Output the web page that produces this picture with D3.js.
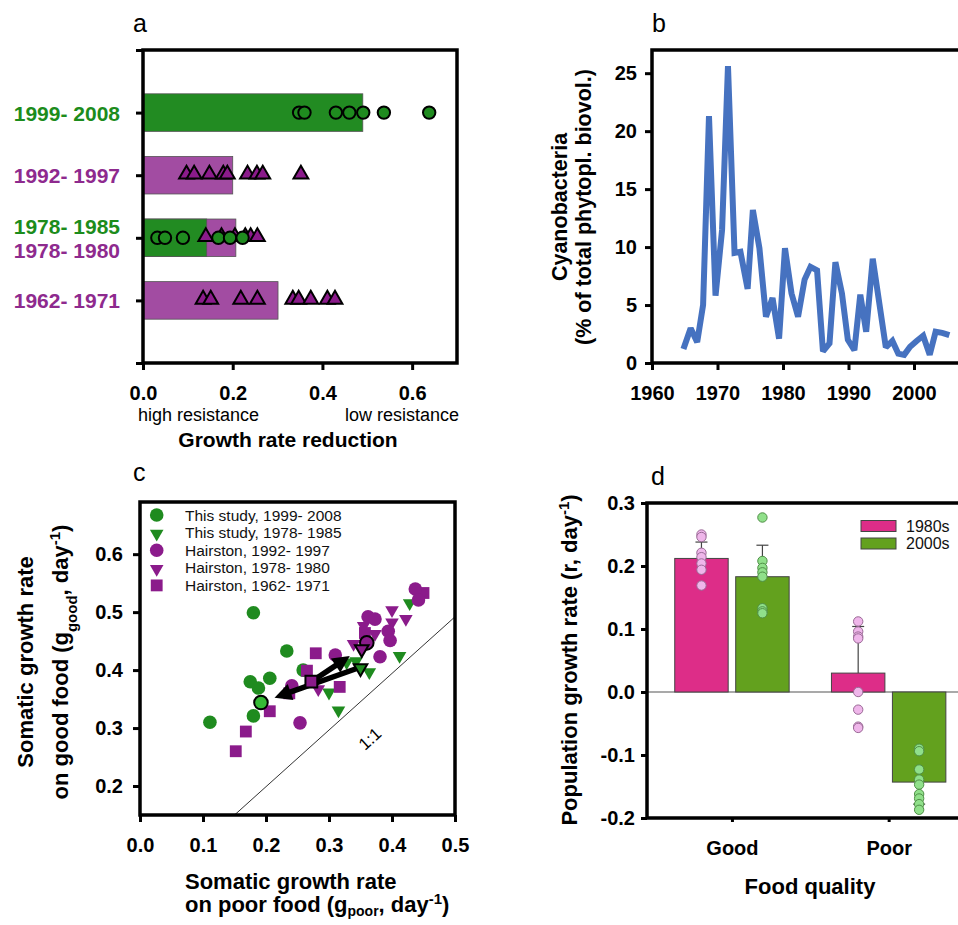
<!DOCTYPE html>
<html>
<head>
<meta charset="utf-8">
<script src="https://cdn.jsdelivr.net/npm/d3@7"></script>
<style>
  body { margin: 0; background: #fff; }
  svg { font-family: "Liberation Sans", Arial, sans-serif; }
</style>
</head>
<body>
<svg id="fig" width="958" height="925"></svg>
<script>
// ---------- panel a: growth rate reduction
const aGroups = ['1999- 2008', '1992- 1997', '1978- 1980', '1978- 1985', '1962- 1971'];
const aStudy = ['this', 'hairston', 'hairston', 'this', 'hairston'];
const aRow = [4, 3, 2, 2, 1];
const aBarValues = [0.49, 0.20, 0.207, 0.142, 0.301];
const aPts1999 = [0.348, 0.36, 0.43, 0.46, 0.491, 0.537, 0.638];
const aPts1992 = [0.097, 0.114, 0.148, 0.179, 0.188, 0.233, 0.254, 0.267, 0.352];
const aPts1980 = [0.14, 0.175, 0.205, 0.228, 0.24, 0.255];
const aPts1985 = [0.032, 0.049, 0.089, 0.168, 0.194, 0.222];
const aPts1962 = [0.134, 0.151, 0.218, 0.255, 0.334, 0.347, 0.374, 0.411, 0.428];
const aPoints = [aPts1999, aPts1992, aPts1980, aPts1985, aPts1962];
const aTicks = [0, 0.2, 0.4, 0.6];

// ---------- panel b: cyanobacteria time series
const cyanoYears = [1964.8, 1965.9, 1966.9, 1967.8, 1968.7, 1969.7, 1970.7, 1971.6, 1972.6, 1973.5,
  1974.6, 1975.4, 1976.4, 1977.4, 1978.4, 1979.4, 1980.3, 1981.3, 1982.3, 1983.3,
  1984.2, 1985.2, 1986.1, 1987.1, 1988.0, 1989.0, 1989.9, 1990.9, 1991.8, 1992.7,
  1993.7, 1995.7, 1996.7, 1997.6, 1998.5, 1999.4, 2000.4, 2001.4, 2002.4, 2003.3,
  2004.3, 2005.4];
const cyanoValues = [1.2, 3.0, 1.8, 5.0, 21.3, 5.8, 11.5, 25.6, 9.5, 9.6,
  6.4, 13.2, 9.9, 4.0, 5.6, 2.1, 9.9, 6.0, 4.0, 7.2,
  8.3, 8.0, 1.0, 1.7, 8.7, 6.0, 2.0, 1.1, 5.9, 2.7,
  9.0, 1.35, 1.9, 0.8, 0.7, 1.4, 1.9, 2.35, 0.7, 2.7,
  2.6, 2.4];
const bXTicks = [1960, 1970, 1980, 1990, 2000];
const bYTicks = [0, 5, 10, 15, 20, 25];

// ---------- panel c: somatic growth rates
const cSeries = ['This study, 1999- 2008', 'This study, 1978- 1985', 'Hairston, 1992- 1997', 'Hairston, 1978- 1980', 'Hairston, 1962- 1971'];
const cThis1999 = [[0.180, 0.499], [0.233, 0.433], [0.175, 0.380], [0.206, 0.386], [0.188, 0.369], [0.180, 0.321], [0.111, 0.310], [0.259, 0.400]];
const cThis1978 = [[0.428, 0.517], [0.412, 0.426], [0.364, 0.398], [0.300, 0.363], [0.315, 0.332], [0.328, 0.415], [0.343, 0.417]];
const cHair1992 = [[0.437, 0.540], [0.442, 0.521], [0.362, 0.492], [0.373, 0.488], [0.394, 0.467], [0.397, 0.451], [0.381, 0.423], [0.310, 0.426], [0.241, 0.373], [0.254, 0.309]];
const cHair1978 = [[0.400, 0.505], [0.422, 0.490], [0.400, 0.484], [0.373, 0.464], [0.339, 0.447], [0.283, 0.369], [0.355, 0.478]];
const cHair1962 = [[0.450, 0.533], [0.357, 0.464], [0.279, 0.429], [0.265, 0.399], [0.317, 0.371], [0.237, 0.360], [0.206, 0.329], [0.168, 0.294], [0.152, 0.260]];
const cMeans = [[0.192, 0.344], [0.350, 0.405], [0.360, 0.447], [0.352, 0.438], [0.272, 0.380]];
const cArrowFrom = [4, 1];
const cArrowTo = [3, 0];
const cOneToOne = [[0.15, 0.15], [0.5, 0.492]];
const cXTicks = [0, 0.1, 0.2, 0.3, 0.4, 0.5];
const cYTicks = [0.2, 0.3, 0.4, 0.5, 0.6];

// ---------- panel d: population growth rate
const dGroups = ['Good', 'Poor'];
const dSeries = ['1980s', '2000s'];
const dMean1980 = [0.212, 0.030];
const dMean2000 = [0.183, -0.143];
const dErr1980 = [0.238, 0.104];
const dErr2000 = [0.233, -0.178];
const dDots1980Good = [0.250, 0.246, 0.221, 0.214, 0.204, 0.194, 0.169];
const dDots2000Good = [0.277, 0.208, 0.197, 0.190, 0.183, 0.133, 0.128, 0.125];
const dDots1980Poor = [0.112, 0.096, 0.088, 0.085, 0.0, -0.028, -0.055, -0.057];
const dDots2000Poor = [-0.090, -0.094, -0.123, -0.139, -0.147, -0.162, -0.169, -0.178, -0.187];
const dYTicks = [-0.2, -0.1, 0.0, 0.1, 0.2, 0.3];

const svg = d3.select('#fig');
const FONT = '"Liberation Sans", Arial, sans-serif';
const GREEN = '#1f8b1f', PURPLE = '#8b1b8b', PURPLE_BAR = '#a24ca2';

let styleAxis = (g) => {
  g.select('.domain').remove();
  g.attr('font-family', FONT);
  g.selectAll('.tick line').attr('stroke', '#000').attr('stroke-width', 3);
  g.selectAll('.tick text').attr('font-size', 20).attr('font-weight', 'bold').attr('fill', '#000');
};

let frame = (x0, y0, x1, y1) => {
  svg.append('rect')
    .attr('x', x0).attr('y', y0)
    .attr('width', x1 - x0).attr('height', y1 - y0)
    .attr('fill', 'none').attr('stroke', '#000').attr('stroke-width', 3.5);
};

let label = (x, y, txt, opts) => {
  opts = opts || {};
  return svg.append('text')
    .attr('x', x).attr('y', y)
    .attr('font-size', opts.size || 22)
    .attr('font-weight', opts.bold ? 'bold' : 'normal')
    .attr('text-anchor', opts.anchor || 'start')
    .attr('fill', opts.fill || '#000')
    .text(txt);
};

// ================= panel a =================
const ax = d3.scaleLinear().domain([0, 0.7]).range([143, 457]);
const ay = d3.scaleLinear().domain([0, 5]).range([363, 50]);

svg.append('g').selectAll('rect').data(aGroups).enter().append('rect')
  .attr('x', ax(0))
  .attr('y', (d, i) => ay(aRow[i] + 0.3))
  .attr('width', (d, i) => ax(aBarValues[i]) - ax(0))
  .attr('height', (d, i) => ay(aRow[i] - 0.3) - ay(aRow[i] + 0.3))
  .attr('fill', (d, i) => aStudy[i] === 'this' ? '#228b22' : PURPLE_BAR)
  .attr('stroke', '#555').attr('stroke-width', 0.8);

const triA = d3.symbol(d3.symbolTriangle, 95)();
aGroups.forEach((g, i) => {
  if (aStudy[i] !== 'hairston') return;
  svg.append('g').selectAll('path').data(aPoints[i]).enter().append('path')
    .attr('d', triA)
    .attr('transform', d => `translate(${ax(d)},${ay(aRow[i]) - 1})`)
    .attr('fill', PURPLE).attr('stroke', '#000').attr('stroke-width', 2);
});
aGroups.forEach((g, i) => {
  if (aStudy[i] !== 'this') return;
  svg.append('g').selectAll('circle').data(aPoints[i]).enter().append('circle')
    .attr('cx', d => ax(d)).attr('cy', ay(aRow[i]))
    .attr('r', 6.2)
    .attr('fill', GREEN).attr('stroke', '#000').attr('stroke-width', 2);
});

frame(143, 50, 457, 363);
svg.append('g').attr('transform', `translate(0,${ay(0)})`)
  .call(d3.axisBottom(ax).tickValues(aTicks).tickFormat(d => d.toFixed(1)).tickSize(7).tickPadding(16))
  .call(styleAxis);
svg.append('g').attr('transform', `translate(${ax(0)},0)`)
  .call(d3.axisLeft(ay).tickValues([0, 1, 2, 3, 4, 5]).tickFormat('').tickSize(7))
  .call(styleAxis);

// row labels
aGroups.forEach((g, i) => {
  const shared = aRow.filter(r => r === aRow[i]).length > 1;
  let dy = 8;
  if (shared) dy = aStudy[i] === 'this' ? -4 : 20;
  label(120, ay(aRow[i]) + dy, g, { size: 21, bold: true, anchor: 'end', fill: aStudy[i] === 'this' ? '#1c8c1c' : '#8e2a8e' });
});

label(138, 421, 'high resistance', { size: 18 });
label(459, 421, 'low resistance', { size: 18, anchor: 'end' });
label(288, 447, 'Growth rate reduction', { size: 21, bold: true, anchor: 'middle' });
label(133, 32, 'a', { size: 25 });

// ================= panel b =================
const bx = d3.scaleLinear().domain([1960, 2008]).range([652, 966.4]);
const by = d3.scaleLinear().domain([0, 27]).range([363, 50]);

svg.append('path')
  .datum(cyanoYears.map((y, i) => [y, cyanoValues[i]]))
  .attr('d', d3.line().x(d => bx(d[0])).y(d => by(d[1])))
  .attr('fill', 'none').attr('stroke', '#4672c0').attr('stroke-width', 6)
  .attr('stroke-linejoin', 'miter').attr('stroke-miterlimit', 2);

frame(652, 50, 966.4, 363);
svg.append('g').attr('transform', `translate(0,${by(0)})`)
  .call(d3.axisBottom(bx).tickValues(bXTicks).tickFormat(d3.format('d')).tickSize(7).tickPadding(16))
  .call(styleAxis);
svg.append('g').attr('transform', `translate(${bx(1960)},0)`)
  .call(d3.axisLeft(by).tickValues(bYTicks).tickSize(7).tickPadding(8))
  .call(styleAxis);

svg.append('text').attr('transform', 'translate(567,207) rotate(-90)')
  .attr('text-anchor', 'middle').attr('font-size', 21.5).attr('font-weight', 'bold').text('Cyanobacteria');
svg.append('text').attr('transform', 'translate(591,207) rotate(-90)')
  .attr('text-anchor', 'middle').attr('font-size', 21.5).attr('font-weight', 'bold').text('(% of total phytopl. biovol.)');
label(652, 32, 'b', { size: 25 });

// ================= panel c =================
const cx = d3.scaleLinear().domain([0, 0.5]).range([140, 455]);
const cy = d3.scaleLinear().domain([0.15, 0.69]).range([815, 502]);

svg.append('line')
  .attr('x1', cx(cOneToOne[0][0])).attr('y1', cy(cOneToOne[0][1]))
  .attr('x2', cx(cOneToOne[1][0])).attr('y2', cy(cOneToOne[1][1]))
  .attr('stroke', '#333').attr('stroke-width', 1);
svg.append('text')
  .attr('transform', `translate(${cx(0.371)},${cy(0.274)}) rotate(-42)`)
  .attr('text-anchor', 'middle').attr('font-size', 17).text('1:1');

const triC = d3.symbol(d3.symbolTriangle, 80)();
const sqC = d3.symbol(d3.symbolSquare, 140)();
const cShape = ['circle', 'tri', 'circle', 'tri', 'square'];
const cColor = [GREEN, GREEN, PURPLE, PURPLE, PURPLE];
const cData = [cThis1999, cThis1978, cHair1962, cHair1978, cHair1992];
const cDataIdx = [0, 1, 4, 3, 2];

let drawShape = (sel, shape) => {
  if (shape === 'circle') return sel.append('circle').attr('r', 6.8);
  if (shape === 'tri') return sel.append('path').attr('d', triC);
  return sel.append('path').attr('d', sqC);
};
let placeShape = (el, shape, px, py) => {
  if (shape === 'circle') el.attr('cx', px).attr('cy', py);
  else if (shape === 'tri') el.attr('transform', `translate(${px},${py + 1}) rotate(180)`);
  else el.attr('transform', `translate(${px},${py})`);
};

cData.forEach((pts, k) => {
  const s = cDataIdx[k];
  pts.forEach(p => {
    const el = drawShape(svg, cShape[s]).attr('fill', cColor[s]);
    placeShape(el, cShape[s], cx(p[0]), cy(p[1]));
  });
});

// arrows
svg.append('defs').append('marker')
  .attr('id', 'ahead').attr('viewBox', '0 0 10 10')
  .attr('refX', 2).attr('refY', 5)
  .attr('markerWidth', 20).attr('markerHeight', 17)
  .attr('markerUnits', 'userSpaceOnUse').attr('orient', 'auto')
  .append('path').attr('d', 'M0,0 L10,5 L0,10 z').attr('fill', '#000');

cArrowFrom.forEach((f, i) => {
  const a = cMeans[f], b = cMeans[cArrowTo[i]];
  const x1 = cx(a[0]), y1 = cy(a[1]), x2 = cx(b[0]), y2 = cy(b[1]);
  const len = Math.hypot(x2 - x1, y2 - y1);
  const ux = (x2 - x1) / len, uy = (y2 - y1) / len;
  svg.append('line')
    .attr('x1', x1 + ux * 4).attr('y1', y1 + uy * 4)
    .attr('x2', x2 - ux * 28).attr('y2', y2 - uy * 28)
    .attr('stroke', '#000').attr('stroke-width', 5.5)
    .attr('marker-end', 'url(#ahead)');
});

// mean markers
[4, 0, 2, 1, 3].forEach(s => {
  const el = drawShape(svg, cShape[s])
    .attr('fill', s === 0 ? '#36bb36' : cColor[s])
    .attr('stroke', '#000').attr('stroke-width', 2);
  placeShape(el, cShape[s], cx(cMeans[s][0]), cy(cMeans[s][1]));
});

// legend
cSeries.forEach((name, s) => {
  const yy = 515 + s * 17.6;
  const el = drawShape(svg, cShape[s]).attr('fill', cColor[s]);
  placeShape(el, cShape[s], 156.7, yy);
  label(185, yy + 5.5, name, { size: 15.5, fill: '#111' });
});

frame(140, 502, 455, 815);
svg.append('g').attr('transform', `translate(0,${cy(0.15)})`)
  .call(d3.axisBottom(cx).tickValues(cXTicks).tickFormat(d => d.toFixed(1)).tickSize(7).tickPadding(16))
  .call(styleAxis);
svg.append('g').attr('transform', `translate(${cx(0)},0)`)
  .call(d3.axisLeft(cy).tickValues(cYTicks).tickFormat(d => d.toFixed(1)).tickSize(7).tickPadding(10))
  .call(styleAxis);

svg.append('text').attr('transform', 'translate(33,662) rotate(-90)')
  .attr('text-anchor', 'middle').attr('font-size', 22).attr('font-weight', 'bold').text('Somatic growth rate');
const cyt = svg.append('text').attr('transform', 'translate(68,662) rotate(-90)')
  .attr('text-anchor', 'middle').attr('font-size', 22).attr('font-weight', 'bold');
cyt.append('tspan').text('on good food (g');
cyt.append('tspan').attr('baseline-shift', 'sub').attr('font-size', 15).text('good');
cyt.append('tspan').text(', day');
cyt.append('tspan').attr('baseline-shift', 'super').attr('font-size', 15).text('-1');
cyt.append('tspan').text(')');

label(185, 889, 'Somatic growth rate', { size: 22, bold: true });
const cxt = label(185, 912, '', { size: 22, bold: true });
cxt.append('tspan').text('on poor food (g');
cxt.append('tspan').attr('baseline-shift', -4).attr('font-size', 14).text('poor');
cxt.append('tspan').text(', day');
cxt.append('tspan').attr('baseline-shift', 'super').attr('font-size', 15).text('-1');
cxt.append('tspan').text(')');
label(133, 481, 'c', { size: 25 });

// ================= panel d =================
const dx = d3.scaleLinear().domain([0.458, 2.542]).range([647, 973.6]);
const dy = d3.scaleLinear().domain([-0.2, 0.3]).range([818, 503]);
const dMeans = [dMean1980, dMean2000];
const dErrs = [dErr1980, dErr2000];
const dDots = [[dDots1980Good, dDots1980Poor], [dDots2000Good, dDots2000Poor]];
const dBarFill = ['#dd2d88', '#63a11e'];
const dDotFill = ['#efb6ea', '#90e08a'];
const dDotStroke = ['#9a6a96', '#4f8f46'];
const dOffset = [[-0.365, -0.024], [0.024, 0.365]];

// zero line
svg.append('line')
  .attr('x1', dx(0.458)).attr('x2', 958)
  .attr('y1', dy(0)).attr('y2', dy(0))
  .attr('stroke', '#555').attr('stroke-width', 1.2);

dSeries.forEach((s, si) => {
  dGroups.forEach((g, gi) => {
    const x0 = dx(gi + 1 + dOffset[si][0]), x1 = dx(gi + 1 + dOffset[si][1]);
    const v = dMeans[si][gi];
    const xm = (x0 + x1) / 2;
    // error bar
    svg.append('line').attr('x1', xm).attr('x2', xm)
      .attr('y1', dy(v)).attr('y2', dy(dErrs[si][gi]))
      .attr('stroke', '#444').attr('stroke-width', 1.2);
    svg.append('line').attr('x1', xm - 6).attr('x2', xm + 6)
      .attr('y1', dy(dErrs[si][gi])).attr('y2', dy(dErrs[si][gi]))
      .attr('stroke', '#444').attr('stroke-width', 1.2);
    svg.append('rect')
      .attr('x', x0).attr('width', x1 - x0)
      .attr('y', dy(Math.max(v, 0))).attr('height', Math.abs(dy(v) - dy(0)))
      .attr('fill', dBarFill[si]).attr('stroke', '#444').attr('stroke-width', 1);
  });
});
dSeries.forEach((s, si) => {
  dGroups.forEach((g, gi) => {
    const xm = dx(gi + 1 + (dOffset[si][0] + dOffset[si][1]) / 2);
    svg.append('g').selectAll('circle').data(dDots[si][gi]).enter().append('circle')
      .attr('cx', xm).attr('cy', d => dy(d)).attr('r', 4.7)
      .attr('fill', dDotFill[si]).attr('stroke', dDotStroke[si]).attr('stroke-width', 1);
  });
});

// legend
dSeries.forEach((s, si) => {
  const yy = 526 + si * 17.5;
  svg.append('rect').attr('x', 861).attr('y', yy - 5.5).attr('width', 35).attr('height', 11)
    .attr('fill', dBarFill[si]).attr('stroke', '#444').attr('stroke-width', 1);
  label(906, yy + 5.5, s, { size: 16, fill: '#111' });
});

frame(647, 503, 973.6, 818);
svg.append('g').attr('transform', `translate(0,${dy(-0.2)})`)
  .call(d3.axisBottom(dx).tickValues([1, 2]).tickFormat(d => dGroups[d - 1]).tickSize(4).tickPadding(19))
  .call(styleAxis);
svg.append('g').attr('transform', `translate(${dx(0.458)},0)`)
  .call(d3.axisLeft(dy).tickValues(dYTicks).tickFormat(d => d.toFixed(1)).tickSize(6).tickPadding(6))
  .call(styleAxis);

const dyt = svg.append('text').attr('transform', 'translate(577,660) rotate(-90)')
  .attr('text-anchor', 'middle').attr('font-size', 22).attr('font-weight', 'bold');
dyt.append('tspan').text('Population growth rate (r, day');
dyt.append('tspan').attr('baseline-shift', 'super').attr('font-size', 15).text('-1');
dyt.append('tspan').text(')');
label(810, 894, 'Food quality', { size: 22, bold: true, anchor: 'middle' });
label(651, 485, 'd', { size: 25 });
</script>
</body>
</html>
